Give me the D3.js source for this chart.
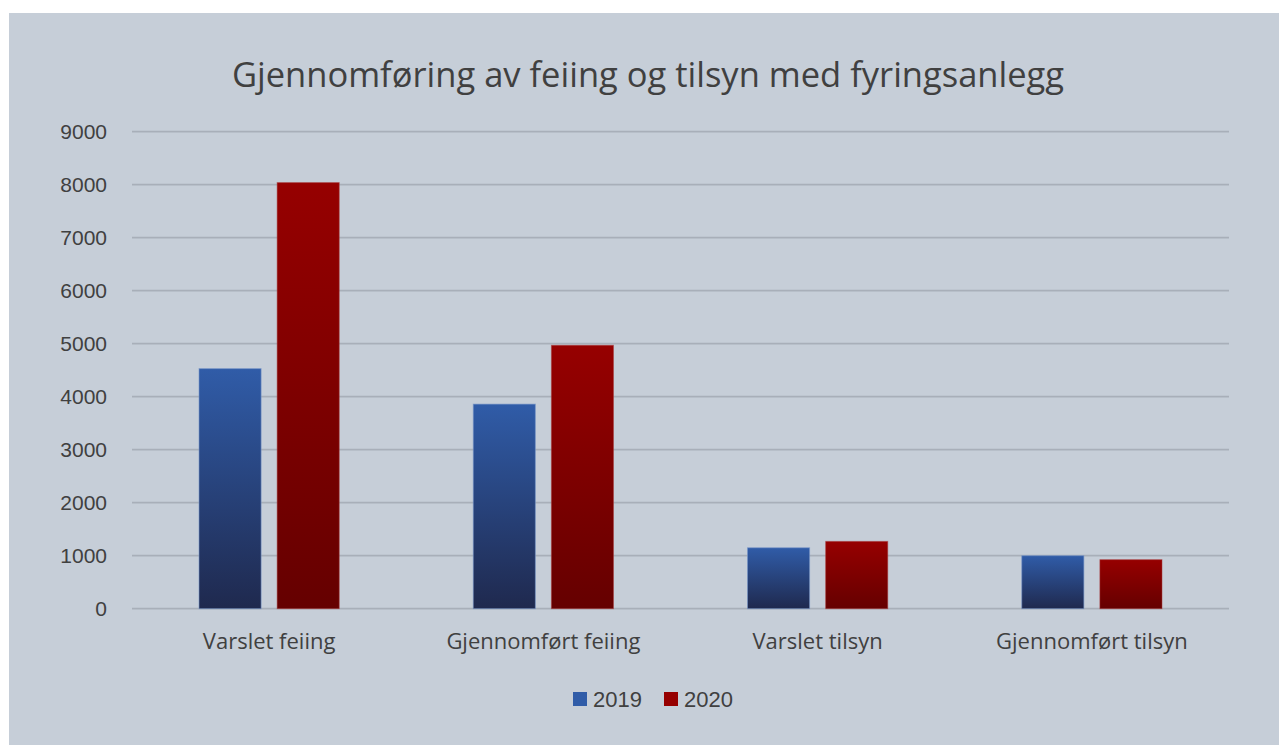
<!DOCTYPE html>
<html>
<head>
<meta charset="utf-8">
<script src="https://cdn.jsdelivr.net/npm/d3@7"></script>
<style>
  body { margin: 0; background: #fff; }
  svg { display: block; }
</style>
</head>
<body>
<svg id="chart" width="1279" height="745"></svg>
<script>
// data
var categories = ["Varslet feiing", "Gjennomført feiing", "Varslet tilsyn", "Gjennomført tilsyn"];
var years = ["2019", "2020"];
var values2019 = [4530, 3860, 1150, 1000];
var values2020 = [8040, 4970, 1270, 925];
var yTicks = [0, 1000, 2000, 3000, 4000, 5000, 6000, 7000, 8000, 9000];

var svg = d3.select("#chart");

// chart area background
svg.append("rect")
  .attr("x", 9).attr("y", 13)
  .attr("width", 1270).attr("height", 732)
  .attr("fill", "#c6ced8");

var defs = svg.append("defs");
var blue = defs.append("linearGradient").attr("id", "g2019")
  .attr("x1", 0).attr("y1", 0).attr("x2", 0).attr("y2", 1);
blue.append("stop").attr("offset", "0%").attr("stop-color", "#305ca8");
blue.append("stop").attr("offset", "100%").attr("stop-color", "#1f294e");
var red = defs.append("linearGradient").attr("id", "g2020")
  .attr("x1", 0).attr("y1", 0).attr("x2", 0).attr("y2", 1);
red.append("stop").attr("offset", "0%").attr("stop-color", "#960000");
red.append("stop").attr("offset", "100%").attr("stop-color", "#650000");

var plotLeft = 132, plotRight = 1229, plotTop = 131.7, plotBottom = 608.7;

var x = d3.scaleBand().domain(categories).range([plotLeft, plotRight]).paddingInner(0).paddingOuter(0);
var xs = d3.scaleBand().domain(years).range([67, x.bandwidth() - 67]).paddingInner(0.205);
var y = d3.scaleLinear().domain([0, 9000]).range([plotBottom, plotTop]);

// gridlines
svg.append("g").selectAll("line").data(yTicks).join("line")
  .attr("x1", plotLeft).attr("x2", plotRight)
  .attr("y1", d => y(d)).attr("y2", d => y(d))
  .attr("stroke", "#a8afb9").attr("stroke-width", 1.8);

// y labels
svg.append("g").selectAll("text").data(yTicks).join("text")
  .attr("x", 107).attr("y", d => y(d) + 7.5)
  .attr("text-anchor", "end")
  .attr("font-family", "Liberation Sans, Arial, sans-serif")
  .attr("font-size", 21)
  .attr("fill", "#404040")
  .text(d => d);

// bars
var rows = categories.map((c, i) => ({cat: c, vals: [values2019[i], values2020[i]]}));
var groups = svg.append("g").selectAll("g").data(rows).join("g")
  .attr("transform", d => "translate(" + x(d.cat) + ",0)");
groups.selectAll("rect").data(d => d.vals.map((v, j) => ({year: years[j], v: v}))).join("rect")
  .attr("x", d => xs(d.year))
  .attr("width", xs.bandwidth())
  .attr("y", d => y(d.v))
  .attr("height", d => y(0) - y(d.v))
  .attr("fill", d => "url(#g" + d.year + ")")
  .attr("stroke", d => d.year === "2019" ? "rgba(120,150,200,0.6)" : "rgba(170,60,60,0.5)")
  .attr("stroke-width", 1);

// category labels
svg.append("g").selectAll("text").data(categories).join("text")
  .attr("x", d => x(d) + x.bandwidth() / 2)
  .attr("y", 649)
  .attr("text-anchor", "middle")
  .attr("font-family", "Open Sans, sans-serif")
  .attr("font-size", 22)
  .attr("fill", "#404040")
  .text(d => d);

// title
svg.append("text")
  .attr("x", 648).attr("y", 87)
  .attr("text-anchor", "middle")
  .attr("font-family", "Open Sans, sans-serif")
  .attr("font-size", 34.5)
  .attr("fill", "#404040")
  .text("Gjennomføring av feiing og tilsyn med fyringsanlegg");

// legend
var legendColors = {"2019": "#305ca8", "2020": "#960000"};
var legendX = [573, 664];
var lg = svg.append("g").selectAll("g").data(years).join("g")
  .attr("transform", (d, i) => "translate(" + legendX[i] + ",692)");
lg.append("rect").attr("width", 14).attr("height", 14).attr("fill", d => legendColors[d]);
lg.append("text").attr("x", 20).attr("y", 15)
  .attr("font-family", "Liberation Sans, Arial, sans-serif")
  .attr("font-size", 22)
  .attr("fill", "#404040")
  .text(d => d);
</script>
</body>
</html>
